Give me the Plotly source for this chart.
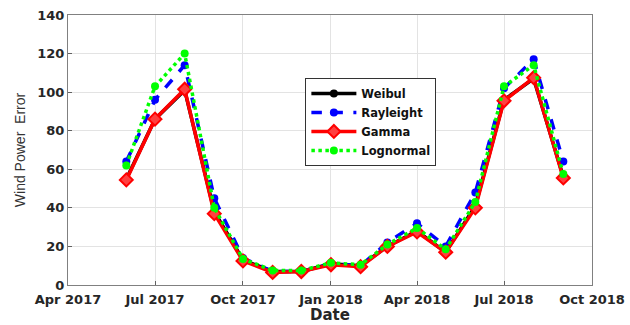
import plotly.graph_objects as go

dates = ["2017-06-01", "2017-07-01", "2017-08-01", "2017-09-01", "2017-10-01", "2017-11-01",
         "2017-12-01", "2018-01-01", "2018-02-01", "2018-03-01", "2018-04-01", "2018-05-01",
         "2018-06-01", "2018-07-01", "2018-08-01", "2018-09-01"]
weibul = [55, 86, 101, 38, 13, 7, 7, 11, 10, 20, 28, 17, 41, 96, 107, 56]
rayleigh = [64, 96, 114, 45, 14, 7, 7, 11, 10, 22, 32, 20, 48, 102, 117, 64]
gamma = [54.5, 86, 101.5, 37, 12.5, 6.5, 7, 10.5, 9.5, 20, 27.5, 17, 40, 95.5, 107.5, 55.5]
lognormal = [62, 103, 120, 40, 13.5, 7.5, 7.5, 11.5, 10.5, 21, 29.5, 18.5, 43, 103, 114, 57.5]

tick_vals = ["2017-04-01", "2017-07-01", "2017-10-01", "2018-01-01", "2018-04-01", "2018-07-01", "2018-10-01"]
tick_text = ["Apr 2017", "Jul 2017", "Oct 2017", "Jan 2018", "Apr 2018", "Jul 2018", "Oct 2018"]

fig = go.Figure()
fig.add_trace(go.Scatter(x=dates, y=weibul, name="Weibul", mode="lines+markers",
                         line=dict(color="black", width=3.5),
                         marker=dict(symbol="circle", size=8, color="black")))
fig.add_trace(go.Scatter(x=dates, y=rayleigh, name="Rayleight", mode="lines+markers",
                         line=dict(color="#0000ff", width=3.5, dash="dash"),
                         marker=dict(symbol="circle", size=8, color="#0000ff")))
fig.add_trace(go.Scatter(x=dates, y=gamma, name="Gamma", mode="lines+markers",
                         line=dict(color="#ff0000", width=3.5),
                         marker=dict(symbol="diamond", size=10, color="#ff4040",
                                     line=dict(color="#ff0000", width=2))))
fig.add_trace(go.Scatter(x=dates, y=lognormal, name="Lognormal", mode="lines+markers",
                         line=dict(color="#00ff00", width=3.5, dash="dot"),
                         marker=dict(symbol="circle", size=8, color="#00ff00")))

tickfont = dict(family="DejaVu Sans", size=13, color="#262626", weight="bold")

fig.update_layout(
    width=630, height=325,
    margin=dict(l=68, r=38, t=15, b=40),
    paper_bgcolor="white", plot_bgcolor="white",
    showlegend=True,
    legend=dict(x=0.578, y=0.604, xanchor="center", yanchor="middle",
                bgcolor="white", bordercolor="#333333", borderwidth=1,
                font=dict(family="DejaVu Sans", size=11.5, color="#111111", weight="bold"),
                tracegroupgap=0, itemwidth=45),
    xaxis=dict(
        range=["2017-04-01", "2018-10-01"],
        tickvals=tick_vals, ticktext=tick_text,
        tickfont=tickfont, ticklabelstandoff=2,
        showgrid=True, gridcolor="#e3e3e3", gridwidth=1,
        showline=True, linecolor="#808080", linewidth=1, mirror=True,
        ticks="inside", ticklen=4, tickcolor="#606060",
        zeroline=False, automargin=False,
    ),
    yaxis=dict(
        range=[0, 140], dtick=20,
        tickfont=tickfont,
        showgrid=True, gridcolor="#e3e3e3", gridwidth=1,
        showline=True, linecolor="#808080", linewidth=1, mirror=True,
        ticks="inside", ticklen=4, tickcolor="#606060",
        zeroline=False, automargin=False,
        title=dict(text="Wind Power  Error", font=dict(family="Liberation Sans", size=14, color="#333333"),
                   standoff=8),
    ),
    annotations=[dict(text="Date", xref="paper", yref="paper", x=0.5, y=-0.11,
                      xanchor="center", yanchor="middle", showarrow=False,
                      font=dict(family="DejaVu Sans", size=15, color="#262626", weight="bold"))],
)

fig.write_html("out.html", config={"displayModeBar": False},
               post_script="document.body.style.margin='0';document.body.style.overflow='hidden';")
